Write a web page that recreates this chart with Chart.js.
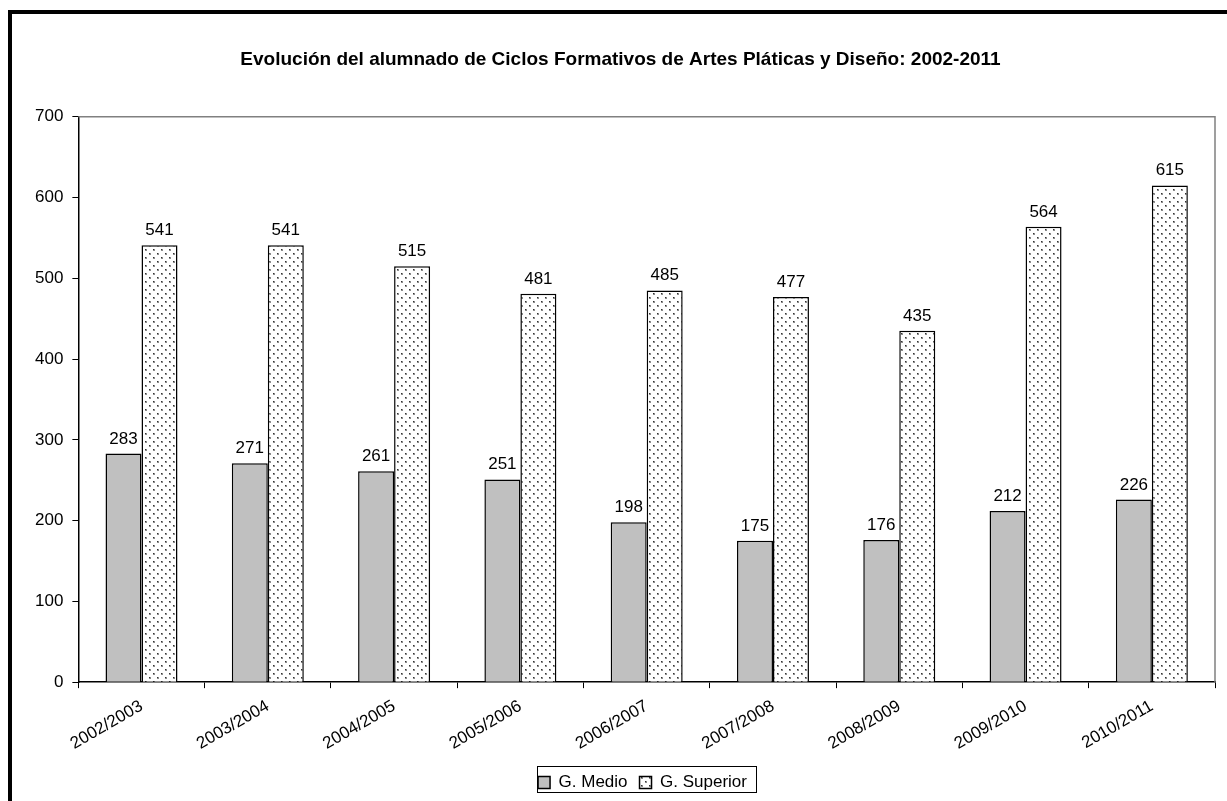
<!DOCTYPE html>
<html>
<head>
<meta charset="utf-8">
<script src="https://cdn.jsdelivr.net/npm/chart.js@4.4.1/dist/chart.umd.min.js"></script>
<style>
  body { margin: 0; background: #fff; }
  #wrap { position: relative; width: 1227px; height: 801px; }
</style>
</head>
<body>
<div id="wrap"><canvas id="chart" width="1227" height="801"></canvas></div>
<script>
const titleText = "Evolución del alumnado de Ciclos Formativos de Artes Pláticas y Diseño: 2002-2011";
const years = ["2002/2003", "2003/2004", "2004/2005", "2005/2006", "2006/2007", "2007/2008", "2008/2009", "2009/2010", "2010/2011"];
const medio = [283, 271, 261, 251, 198, 175, 176, 212, 226];
const superior = [541, 541, 515, 481, 485, 477, 435, 564, 615];

Chart.defaults.font.family = "'Liberation Sans', Arial, sans-serif";
Chart.defaults.color = "#000";

// dotted fill like the old office pattern
function dots() {
  const c = document.createElement("canvas");
  c.width = 8; c.height = 8;
  const g = c.getContext("2d");
  g.fillStyle = "#fff";
  g.fillRect(0, 0, 8, 8);
  g.fillStyle = "#8c8c8c";
  g.fillRect(1, 1, 2, 2);
  g.fillRect(5, 5, 2, 2);
  g.fillStyle = "#333";
  g.fillRect(1, 1, 1, 1);
  g.fillRect(5, 5, 1, 1);
  return g.createPattern(c, "repeat");
}
const dotFill = dots();

// black frame, grey plot border, legend shifted right with a box round it
const frame = {
  id: "frame",
  afterLayout(chart) {
    const lg = chart.legend;
    lg.left += 22;
    lg.right += 22;
  },
  beforeDraw(chart) {
    const c = chart.ctx;
    c.save();
    c.fillStyle = "#000";
    c.fillRect(8, 10, 1219, 4);
    c.fillRect(8, 10, 4, 791);
    c.restore();
  },
  afterDraw(chart) {
    const c = chart.ctx, a = chart.chartArea;
    c.save();
    c.strokeStyle = "#808080";
    c.lineWidth = 1.5;
    c.beginPath();
    c.moveTo(a.left, a.top);
    c.lineTo(a.right, a.top);
    c.lineTo(a.right, a.bottom);
    c.stroke();
    c.strokeStyle = "#000";
    c.lineWidth = 1;
    c.strokeRect(537.5, 766.5, 219, 26);
    c.restore();
  }
};

// value labels over the bars
const labels = {
  id: "labels",
  afterDatasetsDraw(chart) {
    const c = chart.ctx;
    c.save();
    c.font = "17px 'Liberation Sans', Arial";
    c.fillStyle = "#000";
    c.textAlign = "center";
    c.textBaseline = "alphabetic";
    chart.data.datasets.forEach((ds, i) => {
      chart.getDatasetMeta(i).data.forEach((bar, j) => {
        c.fillText(ds.data[j], bar.x, bar.y - 10);
      });
    });
    c.restore();
  }
};

const ctx = document.getElementById("chart").getContext("2d");
new Chart(ctx, {
  type: "bar",
  data: {
    labels: years,
    datasets: [
      {
        label: "G. Medio",
        data: medio,
        backgroundColor: "#c0c0c0",
        borderColor: "#000",
        borderWidth: 1.5
      },
      {
        label: "G. Superior",
        data: superior,
        backgroundColor: dotFill,
        borderColor: "#000",
        borderWidth: 1.5
      }
    ]
  },
  options: {
    responsive: false,
    animation: false,
    layout: { padding: { left: 26, right: 12, top: 0, bottom: 0 } },
    datasets: { bar: { categoryPercentage: 0.57, barPercentage: 1 } },
    scales: {
      x: {
        grid: { display: true, drawOnChartArea: false, offset: true, color: "#000", tickLength: 6 },
        border: { color: "#000", width: 1.5 },
        ticks: { font: { size: 17 }, minRotation: 30, maxRotation: 30, padding: 8 }
      },
      y: {
        min: 0, max: 700,
        grid: { display: true, drawOnChartArea: false, color: "#000", tickLength: 6 },
        border: { color: "#000", width: 1.5 },
        ticks: { stepSize: 100, font: { size: 17 }, padding: 9 }
      }
    },
    plugins: {
      title: {
        display: true,
        text: titleText,
        font: { size: 19, weight: "bold" },
        padding: { top: 48, bottom: 46 }
      },
      legend: {
        position: "bottom",
        labels: {
          font: { size: 17 },
          boxWidth: 12,
          boxHeight: 12,
          padding: 12,
          useBorderRadius: false
        }
      },
      tooltip: { enabled: false }
    }
  },
  plugins: [frame, labels]
});
</script>
</body>
</html>
